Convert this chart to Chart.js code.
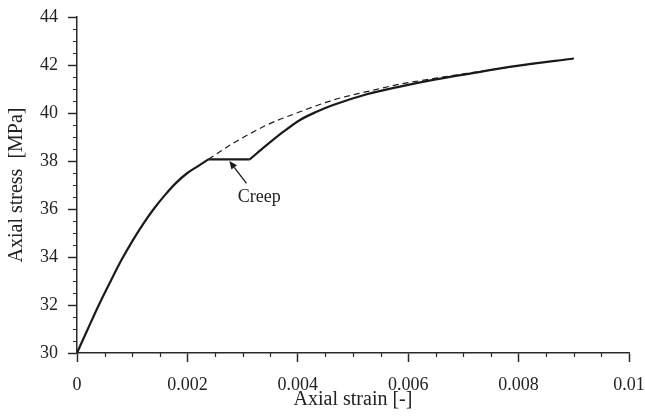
<!DOCTYPE html>
<html>
<head>
<meta charset="utf-8">
<script src="https://cdn.jsdelivr.net/npm/chart.js@4/dist/chart.umd.min.js"></script>
<style>
  html, body { margin: 0; padding: 0; background: #ffffff; }
  #wrap { width: 645px; height: 419px; }
</style>
</head>
<body>
<div id="wrap"><canvas id="c" width="645" height="419"></canvas></div>
<script>
// ---- data ----
const loadStrain = [0, 0.0002, 0.0004, 0.0006, 0.0008, 0.001, 0.0012, 0.0014, 0.0016, 0.0018, 0.002, 0.0022, 0.00238];
const loadStress = [30.0, 31.02, 32.02, 32.95, 33.85, 34.65, 35.38, 36.03, 36.6, 37.1, 37.5, 37.8, 38.07];

const creepStrain = [0.00238, 0.00313];
const creepStress = [38.07, 38.07];

const reloadStrain = [0.00313, 0.00344, 0.00374, 0.00404, 0.00434, 0.00464, 0.00525, 0.00585, 0.0065, 0.00706, 0.00797, 0.009];
const reloadStress = [38.07, 38.67, 39.22, 39.71, 40.05, 40.33, 40.78, 41.1, 41.4, 41.62, 41.96, 42.27];

const refStrain = [0.00238, 0.00283, 0.00344, 0.00404, 0.00464, 0.00525, 0.00585, 0.0065, 0.00706, 0.008, 0.009];
const refStress = [38.07, 38.74, 39.5, 40.05, 40.54, 40.89, 41.2, 41.45, 41.65, 41.97, 42.27];

const xTicksStep = 0.002;
const yTicksStep = 2;
const xMinorStep = 0.0005;
const yMinorStep = 0.5;

const creepLabel = 'Creep';
const creepArrowFrom = [0.00307, 37.07];
const creepArrowTo = [0.00276, 38.0];
const creepTextAt = [0.0033, 36.5];

const xTitle = 'Axial strain [-]';
const yTitle = 'Axial stress  [MPa]';

// ---- helpers ----
function pts(xs, ys) { return xs.map((x, i) => ({ x: x, y: ys[i] })); }

const AX = '#2a2a2a';
const FONT = "'Liberation Serif', 'Times New Roman', serif";

const minorTicks = {
  id: 'minorTicks',
  afterDraw(chart) {
    const ctx = chart.ctx;
    const xs = chart.scales.x, ys = chart.scales.y;
    const a = chart.chartArea;
    ctx.save();
    ctx.strokeStyle = AX;
    ctx.lineWidth = 1.2;
    ctx.beginPath();
    const nx = Math.round((xs.max - xs.min) / xMinorStep);
    for (let i = 0; i <= nx; i++) {
      const v = xs.min + i * xMinorStep;
      if (i % Math.round(xTicksStep / xMinorStep) === 0) continue;
      const px = Math.round(xs.getPixelForValue(v)) + 0.5;
      ctx.moveTo(px, a.bottom);
      ctx.lineTo(px, a.bottom + 4);
    }
    const ny = Math.round((ys.max - ys.min) / yMinorStep);
    for (let i = 0; i <= ny; i++) {
      const v = ys.min + i * yMinorStep;
      if (i % Math.round(yTicksStep / yMinorStep) === 0) continue;
      const py = Math.round(ys.getPixelForValue(v)) + 0.5;
      ctx.moveTo(a.left - 4, py);
      ctx.lineTo(a.left, py);
    }
    ctx.stroke();

    // creep annotation
    const fx = xs.getPixelForValue(creepArrowFrom[0]), fy = ys.getPixelForValue(creepArrowFrom[1]);
    const tx = xs.getPixelForValue(creepArrowTo[0]), ty = ys.getPixelForValue(creepArrowTo[1]);
    const ang = Math.atan2(ty - fy, tx - fx);
    const hl = 8, hw = 3.5;
    const bx = tx - hl * Math.cos(ang), by = ty - hl * Math.sin(ang);
    ctx.strokeStyle = '#1a1a1a';
    ctx.fillStyle = '#1a1a1a';
    ctx.lineWidth = 1.3;
    ctx.beginPath();
    ctx.moveTo(fx, fy);
    ctx.lineTo(bx, by);
    ctx.stroke();
    ctx.beginPath();
    ctx.moveTo(tx, ty);
    ctx.lineTo(bx + hw * Math.sin(ang), by - hw * Math.cos(ang));
    ctx.lineTo(bx - hw * Math.sin(ang), by + hw * Math.cos(ang));
    ctx.closePath();
    ctx.fill();

    ctx.font = '18px ' + FONT;
    ctx.textAlign = 'center';
    ctx.textBaseline = 'middle';
    ctx.fillStyle = '#222';
    ctx.fillText(creepLabel, xs.getPixelForValue(creepTextAt[0]), ys.getPixelForValue(creepTextAt[1]));
    ctx.restore();
  }
};

const PAD = { left: 5, right: 16, top: 17, bottom: 2 };
const PLOT_LEFT = 77, PLOT_BOTTOM = 353;

function lineDs(label, data, width, dash, smooth) {
  return {
    label: label,
    data: data,
    borderColor: '#1a1a1a',
    borderWidth: width,
    borderDash: dash,
    pointRadius: 0,
    tension: 0,
    cubicInterpolationMode: smooth ? 'monotone' : 'default',
    fill: false
  };
}

new Chart(document.getElementById('c'), {
  type: 'line',
  data: {
    datasets: [
      lineDs('loading', pts(loadStrain, loadStress), 2.2, [], true),
      lineDs('creep', pts(creepStrain, creepStress), 2.2, [], false),
      lineDs('reloading', pts(reloadStrain, reloadStress), 2.2, [], true),
      lineDs('reference', pts(refStrain, refStress), 1.2, [6, 4], true)
    ]
  },
  options: {
    responsive: false,
    animation: false,
    devicePixelRatio: 1,
    layout: { padding: PAD, autoPadding: false },
    plugins: { legend: { display: false }, tooltip: { enabled: false } },
    scales: {
      x: {
        type: 'linear',
        min: 0, max: 0.01,
        afterFit(s) { s.height = 419 - PAD.bottom - PLOT_BOTTOM; s.paddingLeft = 0; s.paddingRight = 0; },
        border: { display: true, color: AX, width: 1.5 },
        grid: { display: true, drawOnChartArea: false, drawTicks: true, tickLength: 9, tickColor: AX, tickWidth: 1.5 },
        ticks: {
          stepSize: xTicksStep,
          padding: 12,
          color: '#222',
          font: { family: FONT, size: 18 },
          maxRotation: 0,
          callback: (v) => String(Number(Number(v).toFixed(4)))
        },
        title: { display: true, text: xTitle, color: '#222', font: { family: FONT, size: 20 }, padding: { top: 0, bottom: 5 } }
      },
      y: {
        type: 'linear',
        min: 30, max: 44,
        afterFit(s) { s.width = PLOT_LEFT - PAD.left; s.paddingTop = 0; s.paddingBottom = 0; },
        border: { display: true, color: AX, width: 1.5 },
        grid: { display: true, drawOnChartArea: false, drawTicks: true, tickLength: 9, tickColor: AX, tickWidth: 1.5 },
        ticks: {
          stepSize: yTicksStep,
          padding: 10,
          color: '#222',
          font: { family: FONT, size: 18 }
        },
        title: { display: true, text: yTitle, color: '#222', font: { family: FONT, size: 20 }, padding: { top: 0, bottom: 0 } }
      }
    }
  },
  plugins: [minorTicks]
});
</script>
</body>
</html>
